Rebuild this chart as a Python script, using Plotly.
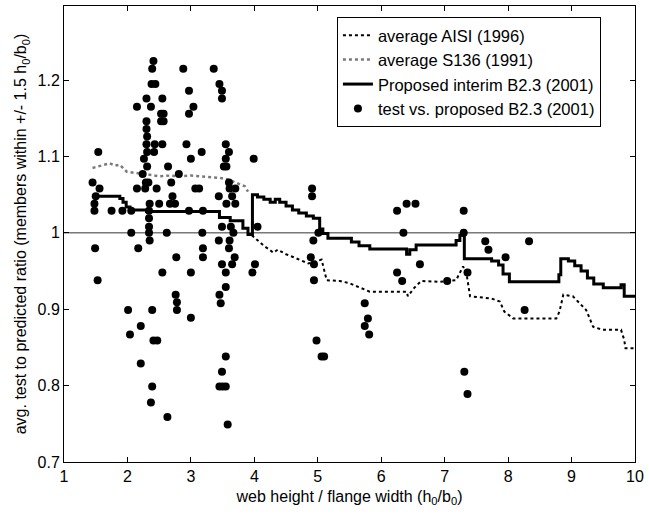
import plotly.graph_objects as go

# h0/b0 vs avg test-to-predicted ratio
aisi_x = [3.96, 4.05, 4.15, 4.22, 4.30, 4.37, 4.50, 4.62, 4.75, 4.85, 4.95, 5.06, 5.14, 5.35, 5.50,
          5.82, 6.40, 6.42, 6.52, 6.63, 6.92, 7.18, 7.29, 7.34, 7.40, 7.74, 7.87, 7.94, 8.08,
          8.76, 8.81, 8.87, 9.02, 9.23, 9.34, 9.49, 9.78, 9.83, 9.85, 10.0]
aisi_y = [0.997, 0.990, 0.983, 0.979, 0.974, 0.978, 0.972, 0.968, 0.964, 0.960, 0.962, 0.965, 0.938, 0.937, 0.934,
          0.923, 0.923, 0.917, 0.928, 0.937, 0.936, 0.938, 0.956, 0.949, 0.917, 0.914, 0.910, 0.897, 0.888,
          0.888, 0.897, 0.919, 0.917, 0.899, 0.877, 0.873, 0.873, 0.860, 0.849, 0.849]

s136_x = [1.45, 1.54, 1.63, 1.72, 1.80, 1.88, 1.99, 2.10, 2.20, 2.35, 2.51, 2.67, 2.83, 3.00, 3.14,
          3.30, 3.46, 3.58, 3.67, 3.77, 3.85, 3.90]
s136_y = [1.085, 1.087, 1.088, 1.091, 1.088, 1.089, 1.080, 1.079, 1.078, 1.076, 1.074, 1.075, 1.074, 1.075, 1.074,
          1.073, 1.072, 1.070, 1.067, 1.064, 1.061, 1.054]

b23_x = [1.46, 1.88, 1.93, 1.98, 2.04, 2.30, 3.45, 3.62, 3.82, 3.90, 3.97, 4.05, 4.15, 4.25, 4.33, 4.40,
         4.50, 4.60, 4.70, 4.82, 4.93, 5.03, 5.08, 5.16, 5.53, 5.65, 5.82, 6.40, 6.45, 6.55, 7.18,
         7.24, 7.29, 7.31, 7.74, 7.85, 7.92, 8.02, 8.80, 8.83, 8.95, 9.05, 9.15, 9.25, 9.35, 9.50,
         9.78, 9.83, 10.0]
b23_y = [1.048, 1.045, 1.040, 1.034, 1.030, 1.028, 1.020, 1.016, 1.006, 0.998, 1.050, 1.047, 1.044, 1.040, 1.044, 1.040,
         1.035, 1.030, 1.026, 1.022, 1.019, 1.005, 0.999, 0.993, 0.988, 0.983, 0.979, 0.972, 0.978, 0.984, 0.990,
         0.997, 1.003, 0.966, 0.963, 0.958, 0.946, 0.936, 0.945, 0.966, 0.963, 0.957, 0.950, 0.941, 0.933, 0.928,
         0.932, 0.917, 0.917]

test_x = [2.41,
          2.39, 2.88, 3.36,
          2.38, 2.44, 3.45,
          2.97, 3.49,
          3.49, 2.30, 2.55,
          2.15, 2.37, 3.04,
          2.53, 2.57, 2.97,
          2.53, 2.57, 2.30,
          2.30, 2.31,
          2.30, 2.43, 2.55, 2.93, 3.55,
          1.54, 2.31, 2.42, 3.17, 3.60,
          2.26, 3.00, 3.55, 3.99,
          2.31, 2.64, 3.52, 3.56,
          2.24, 2.81,
          1.45, 2.29, 2.33, 2.69, 3.60,
          1.56, 2.15, 2.28, 2.46, 3.07, 3.13, 3.61, 3.70, 4.91,
          1.50, 2.71, 3.44, 3.65, 4.91,
          1.48, 2.35, 2.50, 2.67, 2.75, 3.56, 3.70, 6.40, 6.54,
          1.48, 1.75, 1.92, 2.06, 2.34, 2.97, 3.19, 6.25, 7.30,
          2.34,
          2.34, 3.49, 3.63, 4.05,
          2.06, 2.34, 2.62, 3.18, 3.67, 5.01, 6.35, 7.30,
          2.35, 3.44, 3.61, 4.93, 7.64, 8.33,
          1.49, 2.17, 3.19, 3.60, 7.69,
          2.77, 3.19, 3.69, 4.89, 7.96,
          3.49, 3.65, 4.01, 4.94, 6.61,
          2.55, 3.00, 3.55, 3.97, 6.25, 7.36,
          1.53, 4.94, 6.33, 7.04,
          3.55,
          2.76, 3.45,
          2.78, 3.47, 5.74,
          2.01, 2.39, 2.78, 8.26,
          3.00, 5.79,
          2.21, 5.74,
          2.04, 5.81,
          2.41, 2.47, 4.98,
          3.55, 5.06, 5.10,
          2.21,
          3.49, 7.31,
          2.39, 3.45, 3.50, 3.55,
          7.36,
          2.37,
          2.63,
          3.58]
test_y = [1.225,
          1.215, 1.215, 1.215,
          1.195, 1.195, 1.195,
          1.186, 1.186,
          1.176, 1.176, 1.176,
          1.165, 1.165, 1.165,
          1.156, 1.156, 1.156,
          1.146, 1.146, 1.146,
          1.136, 1.126,
          1.116, 1.116, 1.116, 1.116, 1.116,
          1.106, 1.106, 1.106, 1.106, 1.106,
          1.097, 1.097, 1.097, 1.097,
          1.087, 1.087, 1.087, 1.087,
          1.077, 1.077,
          1.066, 1.066, 1.066, 1.066, 1.066,
          1.058, 1.058, 1.058, 1.058, 1.058, 1.058, 1.058, 1.058, 1.058,
          1.048, 1.048, 1.048, 1.048, 1.048,
          1.038, 1.038, 1.038, 1.038, 1.038, 1.038, 1.038, 1.038, 1.038,
          1.029, 1.029, 1.029, 1.029, 1.029, 1.029, 1.029, 1.029, 1.029,
          1.019,
          1.008, 1.008, 1.008, 1.008,
          1.000, 1.000, 1.000, 1.000, 1.000, 1.000, 1.000, 1.000,
          0.990, 0.990, 0.990, 0.990, 0.989, 0.989,
          0.980, 0.980, 0.980, 0.980, 0.978,
          0.968, 0.968, 0.968, 0.968, 0.968,
          0.959, 0.959, 0.959, 0.959, 0.959,
          0.948, 0.948, 0.948, 0.948, 0.948, 0.948,
          0.938, 0.938, 0.937, 0.937,
          0.929,
          0.919, 0.919,
          0.909, 0.908, 0.908,
          0.899, 0.899, 0.899, 0.899,
          0.889, 0.888,
          0.878, 0.878,
          0.867, 0.867,
          0.859, 0.859, 0.859,
          0.838, 0.838, 0.838,
          0.829,
          0.818, 0.818,
          0.799, 0.799, 0.799, 0.799,
          0.789,
          0.778,
          0.759,
          0.749]

ref_level = 1.0
x_ticks = [1, 2, 3, 4, 5, 6, 7, 8, 9, 10]
y_ticks = [0.7, 0.8, 0.9, 1.0, 1.1, 1.2]
y_tick_text = ["0.7", "0.8", "0.9", "1", "1.1", "1.2"]

FONT = "Liberation Sans, Arial, Helvetica, sans-serif"

fig = go.Figure()
fig.add_trace(go.Scatter(x=aisi_x, y=aisi_y, mode="lines", name="average AISI (1996)",
                         line=dict(color="black", width=2, dash="dot")))
fig.add_trace(go.Scatter(x=s136_x, y=s136_y, mode="lines", name="average S136 (1991)",
                         line=dict(color="#7a7a7a", width=2.5, dash="dot")))
fig.add_trace(go.Scatter(x=b23_x, y=b23_y, mode="lines", name="Proposed interim B2.3 (2001)",
                         line=dict(color="black", width=3, shape="hv")))
fig.add_trace(go.Scatter(x=test_x, y=test_y, mode="markers", name="test vs. proposed B2.3 (2001)",
                         marker=dict(color="black", size=8)))

fig.add_hline(y=ref_level, line=dict(color="black", width=0.8), layer="below")

axis_common = dict(showline=True, linecolor="black", linewidth=1, mirror="ticks",
                   ticks="inside", ticklen=5, tickcolor="black", showgrid=False, zeroline=False,
                   tickfont=dict(size=16, color="black", family=FONT))

fig.update_layout(
    width=649, height=514,
    margin=dict(l=64, r=12, t=5, b=52),
    paper_bgcolor="white", plot_bgcolor="white",
    font=dict(family=FONT, color="black", size=16),
    xaxis=dict(range=[1, 10], tickvals=x_ticks,
               title=dict(text="web height / flange width (h<sub>0</sub>/b<sub>0</sub>)",
                          font=dict(size=16), standoff=6),
               **axis_common),
    yaxis=dict(range=[0.7, 1.297], tickvals=y_ticks, ticktext=y_tick_text,
               title=dict(text="avg. test to predicted ratio (members within +/- 1.5 h<sub>0</sub>/b<sub>0</sub>)",
                          font=dict(size=16), standoff=6),
               **axis_common),
    legend=dict(x=0.478, y=0.976, xanchor="left", yanchor="top",
                bgcolor="white", bordercolor="black", borderwidth=1,
                font=dict(size=16.5, color="black", family=FONT)),
    showlegend=True,
)

# page body has a default 8px margin, drop it so the figure sits at the window corner
fig.write_html("out.html", config={"displayModeBar": False},
               post_script="document.body.style.margin='0';")
